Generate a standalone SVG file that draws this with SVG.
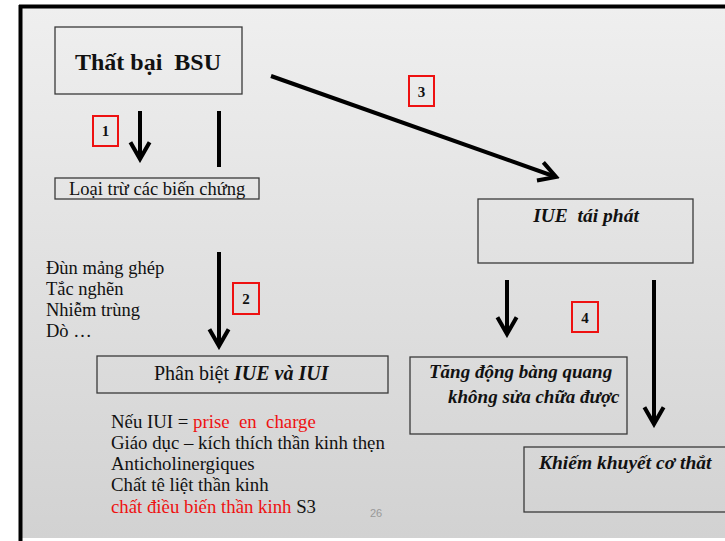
<svg xmlns="http://www.w3.org/2000/svg" width="725" height="541" viewBox="0 0 725 541">
<defs>
<linearGradient id="bg" x1="0" y1="0" x2="0" y2="1">
<stop offset="0" stop-color="#efefef"/>
<stop offset="1" stop-color="#d2d2d2"/>
</linearGradient>
<marker id="ah" viewBox="0 0 20 20" refX="17" refY="10" markerWidth="6" markerHeight="6" markerUnits="strokeWidth" orient="auto">
<path d="M3,2 L17,10 L3,18" fill="none" stroke="#000" stroke-width="3.4"/>
</marker>
<style>
.box{fill:none;stroke:#3a3a3a;stroke-width:1.3}
.red{fill:none;stroke:#ee1111;stroke-width:2}
.ln{stroke:#000;stroke-width:4;fill:none}
.t{font-family:"Liberation Serif","Times New Roman",serif;fill:#111}
.n{font-family:"Liberation Serif","Times New Roman",serif;font-weight:bold;font-size:15px;fill:#111}
.bi{font-weight:bold;font-style:italic}
.r{fill:#ee1111}
</style>
</defs>
<rect x="0" y="0" width="725" height="541" fill="#ffffff"/>
<rect x="21" y="7" width="710" height="531" fill="url(#bg)"/>
<line x1="20.5" y1="5" x2="20.5" y2="541" stroke="#000" stroke-width="4"/>
<line x1="19" y1="6.5" x2="725" y2="6.5" stroke="#000" stroke-width="4"/>

<g id="connectors">
<line class="ln" x1="140" y1="111" x2="140" y2="159" marker-end="url(#ah)"/>
<line class="ln" x1="219" y1="111" x2="219" y2="167"/>
<line class="ln" x1="271" y1="76" x2="556" y2="177" marker-end="url(#ah)"/>
<line class="ln" x1="219" y1="252" x2="219" y2="346" marker-end="url(#ah)"/>
<line class="ln" x1="507" y1="280" x2="507" y2="334" marker-end="url(#ah)"/>
<line class="ln" x1="654" y1="280" x2="654" y2="424" marker-end="url(#ah)"/>
</g>

<g id="label1"><rect class="red" x="93" y="116" width="25" height="30"/><text class="n" x="105.5" y="136" text-anchor="middle">1</text></g>
<g id="label2"><rect class="red" x="233" y="283" width="26" height="31"/><text class="n" x="246" y="304" text-anchor="middle">2</text></g>
<g id="label3"><rect class="red" x="409" y="76" width="25" height="30"/><text class="n" x="421.5" y="97" text-anchor="middle">3</text></g>
<g id="label4"><rect class="red" x="572" y="302" width="26" height="30"/><text class="n" x="585" y="323" text-anchor="middle">4</text></g>

<g id="that-bai">
<rect class="box" x="55" y="27" width="187" height="67"/>
<text class="t" x="148" y="70" font-size="24" font-weight="bold" text-anchor="middle" xml:space="preserve" fill="#333">Thất bại  BSU</text>
</g>

<g id="loai-tru">
<rect class="box" x="55" y="178" width="204" height="21"/>
<text class="t" x="69" y="195" font-size="18.5">Loại trừ các biến chứng</text>
</g>

<g id="bien-chung">
<text class="t" font-size="18.5"><tspan x="46" y="274">Đùn mảng ghép</tspan><tspan x="46" y="295">Tắc nghẽn</tspan><tspan x="46" y="316">Nhiễm trùng</tspan><tspan x="46" y="337">Dò …</tspan></text>
</g>

<g id="phan-biet">
<rect class="box" x="97" y="356" width="291" height="37"/>
<text class="t" x="154" y="380" font-size="20">Phân biệt <tspan class="bi">IUE và IUI</tspan></text>
</g>

<g id="dieu-tri">
<text class="t" font-size="18.8" xml:space="preserve"><tspan x="111" y="428">Nếu IUI = <tspan class="r">prise  en  charge</tspan></tspan><tspan x="111" y="449">Giáo dục – kích thích thần kinh thẹn</tspan><tspan x="111" y="470">Anticholinergiques</tspan><tspan x="111" y="491">Chất tê liệt thần kinh</tspan><tspan x="111" y="513"><tspan class="r">chất điều biến thần kinh</tspan> S3</tspan></text>
</g>

<g id="iue-tai-phat">
<rect class="box" x="478" y="199" width="215" height="64"/>
<text class="t bi" x="586" y="222" font-size="19.5" text-anchor="middle" xml:space="preserve">IUE  tái phát</text>
</g>

<g id="tang-dong">
<rect class="box" x="410" y="357" width="217" height="77"/>
<text class="t bi" font-size="19"><tspan x="429" y="378">Tăng động bàng quang</tspan><tspan x="448" y="403">không sửa chữa được</tspan></text>
</g>

<g id="khiem-khuyet">
<rect class="box" x="524" y="447" width="210" height="65"/>
<text class="t bi" x="539" y="469" font-size="19.5">Khiếm khuyết cơ thắt</text>
</g>

<text x="370" y="517" font-family="'Liberation Sans',Arial,sans-serif" font-size="11" fill="#999">26</text>
</svg>
